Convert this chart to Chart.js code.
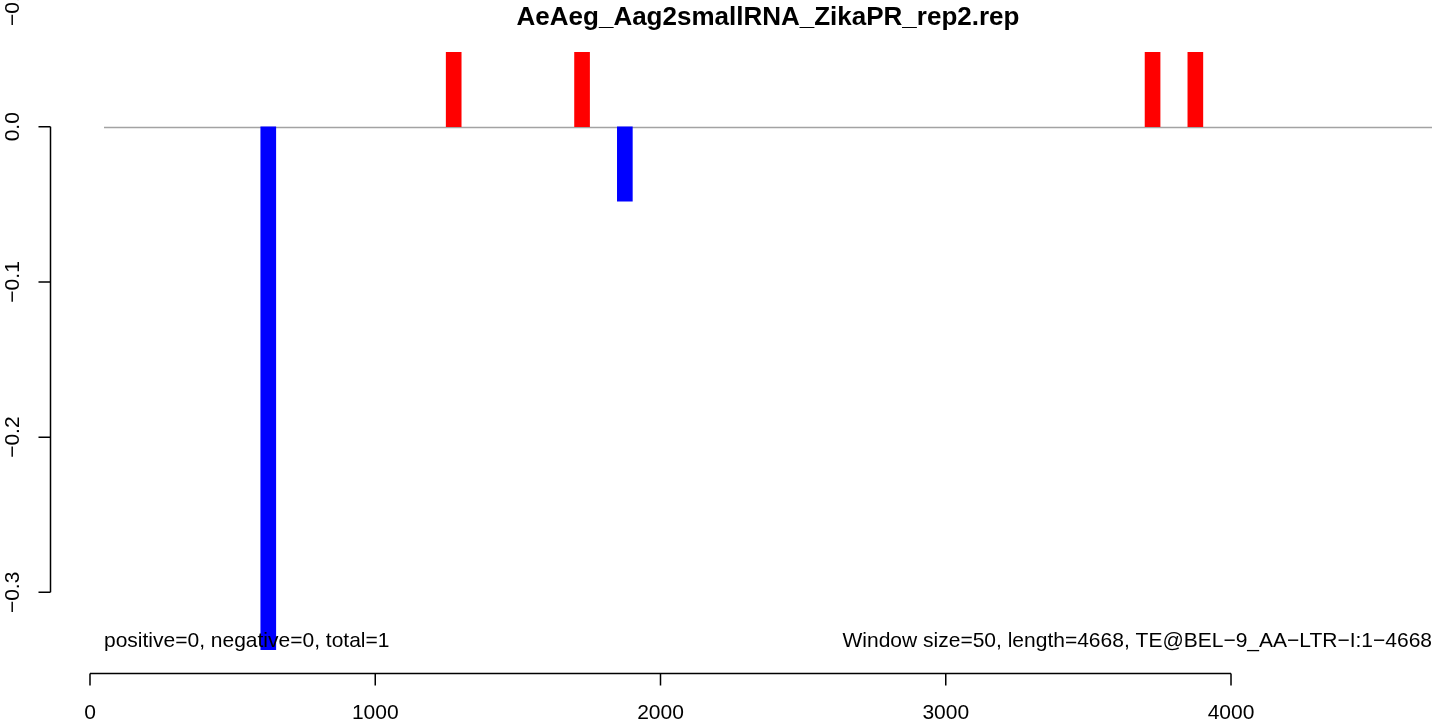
<!DOCTYPE html>
<html>
<head>
<meta charset="utf-8">
<script src="https://cdn.jsdelivr.net/npm/chart.js@4.4.1/dist/chart.umd.min.js"></script>
<style>
  html, body { margin: 0; padding: 0; background: #ffffff; }
  #wrap { width: 1439px; height: 724px; position: relative; }
</style>
</head>
<body>
<div id="wrap"><canvas id="repChart" width="1439" height="724"></canvas></div>
<script>
// window start positions (window size 50) and normalised counts
const binStarts = [600, 1250, 1700, 1850, 3700, 3850];
const binValues = [-0.337, 0.048, 0.048, -0.048, 0.048, 0.048];
const windowSize = 50;

const xTicks = [0, 1000, 2000, 3000, 4000];
const yTicks = [0.0, -0.1, -0.2, -0.3];
const yTickLabels = ['0.0', '\u22120.1', '\u22120.2', '\u22120.3'];

const titleText = 'AeAeg_Aag2smallRNA_ZikaPR_rep2.rep';
const leftNote = 'positive=0, negative=0, total=1';
const rightNote = 'Window size=50, length=4668, TE@BEL\u22129_AA\u2212LTR\u2212I:1\u22124668';

const FONT = '"Liberation Sans", Arial, Helvetica, sans-serif';

const points = binStarts.map((s, i) => ({ x: s + windowSize / 2, y: binValues[i] }));
const barColors = binValues.map(v => v >= 0 ? '#ff0000' : '#0000ff');

// R-style axes, zero line and annotations
const baseRPlot = {
    id: 'baseRPlot',
    beforeDatasetsDraw(chart) {
        const { ctx, chartArea, scales } = chart;
        const y0 = Math.round(scales.y.getPixelForValue(0)) + 0.5;
        ctx.save();
        ctx.strokeStyle = '#a3a3a3';
        ctx.lineWidth = 1.4;
        ctx.beginPath();
        ctx.moveTo(chartArea.left, y0);
        ctx.lineTo(chartArea.right, y0);
        ctx.stroke();
        ctx.restore();
    },
    afterDraw(chart) {
        const { ctx, chartArea, scales } = chart;
        const xs = scales.x, ys = scales.y;
        ctx.save();
        ctx.strokeStyle = '#000000';
        ctx.fillStyle = '#000000';
        ctx.lineWidth = 1.5;

        // x axis
        const axY = 673.5;
        const xa = xs.getPixelForValue(xTicks[0]);
        const xb = xs.getPixelForValue(xTicks[xTicks.length - 1]);
        ctx.beginPath();
        ctx.moveTo(xa, axY);
        ctx.lineTo(xb, axY);
        xTicks.forEach(t => {
            const px = xs.getPixelForValue(t);
            ctx.moveTo(px, axY);
            ctx.lineTo(px, axY + 12);
        });
        ctx.stroke();
        ctx.font = '21px ' + FONT;
        ctx.textAlign = 'center';
        ctx.textBaseline = 'middle';
        xTicks.forEach(t => {
            ctx.fillText(String(t), xs.getPixelForValue(t), 713);
        });

        // y axis
        const axX = 50.5;
        const ya = ys.getPixelForValue(yTicks[0]);
        const yb = ys.getPixelForValue(yTicks[yTicks.length - 1]);
        ctx.beginPath();
        ctx.moveTo(axX, ya);
        ctx.lineTo(axX, yb);
        yTicks.forEach(t => {
            const py = ys.getPixelForValue(t);
            ctx.moveTo(axX, py);
            ctx.lineTo(axX - 12, py);
        });
        ctx.stroke();
        yTicks.forEach((t, i) => {
            const py = ys.getPixelForValue(t);
            ctx.save();
            ctx.translate(13, py);
            ctx.rotate(-Math.PI / 2);
            ctx.textAlign = 'center';
            ctx.textBaseline = 'middle';
            ctx.fillText(yTickLabels[i], 0, 0);
            ctx.restore();
        });
        // cut-off label fragment at the top edge
        ctx.save();
        ctx.translate(13, 26);
        ctx.rotate(-Math.PI / 2);
        ctx.textAlign = 'left';
        ctx.textBaseline = 'middle';
        ctx.fillText('\u22120.4', 0, 0);
        ctx.restore();

        // title
        ctx.font = 'bold 26px ' + FONT;
        ctx.textAlign = 'center';
        ctx.textBaseline = 'middle';
        ctx.fillText(titleText, (chartArea.left + chartArea.right) / 2, 18);

        // notes
        ctx.font = '21px ' + FONT;
        ctx.textBaseline = 'middle';
        ctx.textAlign = 'left';
        ctx.fillText(leftNote, chartArea.left, 641);
        ctx.textAlign = 'right';
        ctx.fillText(rightNote, chartArea.right, 641);
        ctx.restore();
    }
};

function initChart() {
    const ctx = document.getElementById('repChart').getContext('2d');
    new Chart(ctx, {
        type: 'bar',
        data: {
            datasets: [{
                data: points,
                backgroundColor: barColors,
                borderWidth: 0,
                barThickness: 15
            }]
        },
        options: {
            responsive: false,
            animation: false,
            layout: { padding: { left: 104, right: 7, top: 28, bottom: 48 } },
            scales: {
                x: { type: 'linear', min: 49.1, max: 4704.6, offset: false, grid: { offset: false }, display: false },
                y: { min: -0.3539, max: 0.0636, display: false }
            },
            plugins: {
                legend: { display: false },
                tooltip: { enabled: false },
                title: { display: false }
            }
        },
        plugins: [baseRPlot]
    });
}

document.addEventListener('DOMContentLoaded', initChart);
</script>
</body>
</html>
